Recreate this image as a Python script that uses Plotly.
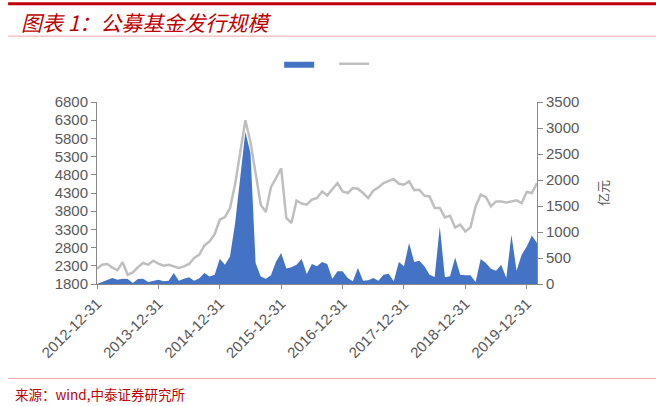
import pandas as pd
import plotly.graph_objects as go

# ── Data (monthly, 2012-12 to 2020-02) ────────────────────────────────────────
months = [d.strftime("%Y-%m-%d") for d in pd.date_range("2012-12-31", "2020-02-29", freq="ME")]

# grey line, left axis
line_vals = [
    2220, 2330, 2350, 2250, 2180, 2400, 2055, 2120, 2260, 2377, 2330, 2440,
    2360, 2305, 2330, 2275, 2240, 2283, 2350, 2514, 2610, 2860, 2970, 3170,
    3566, 3640, 3888, 4550, 5450, 6300, 5700, 4820, 3978, 3780, 4460, 4712,
    4975, 3613, 3476, 4088, 4010, 3978, 4116, 4162, 4344, 4234, 4390, 4574,
    4344, 4300, 4437, 4418, 4300, 4162, 4363, 4454, 4574, 4638, 4684, 4555,
    4528, 4620, 4380, 4390, 4226, 4207, 3888, 3888, 3630, 3676, 3355, 3429,
    3245, 3355, 3932, 4253, 4190, 3932, 4069, 4069, 4042, 4069, 4097, 4025,
    4327, 4300, 4574,
]

# blue area, right axis (亿元)
area_vals = [
    0, 38, 83, 115, 83, 102, 96, 19, 96, 102, 38, 64,
    83, 51, 64, 211, 64, 102, 128, 64, 110, 211, 146, 179,
    486, 371, 530, 1171, 2066, 2930, 2515, 403, 146, 102, 166, 435,
    595, 300, 320, 371, 480, 192, 384, 339, 422, 384, 102, 243,
    243, 115, 51, 307, 64, 70, 115, 64, 179, 198, 51, 422,
    339, 787, 422, 448, 339, 179, 134, 1106, 128, 147, 511, 179,
    166, 166, 38, 480, 403, 294, 256, 371, 115, 947, 256, 563,
    723, 934, 787,
]

tick_vals = [m for m in months if m.endswith("-12-31")]

# ── Figure ────────────────────────────────────────────────────────────────────
fig = go.Figure()
fig.add_trace(go.Scatter(x=months, y=area_vals, name=" ", yaxis="y2",
                         mode="lines", fill="tozeroy", fillcolor="#4472C4",
                         line=dict(width=0, color="#4472C4")))
fig.add_trace(go.Scatter(x=months, y=line_vals, name=" ", mode="lines",
                         line=dict(color="#BFBFBF", width=2.5)))

axis_font = dict(family="Liberation Sans, Arial, sans-serif", size=15, color="#595959")
fig.update_layout(
    width=656, height=406,
    margin=dict(l=97, r=119, t=102, b=122),
    paper_bgcolor="white", plot_bgcolor="white",
    showlegend=True,
    legend=dict(orientation="h", x=0.414, y=1.21, xanchor="left", yanchor="middle",
                font=dict(size=10), entrywidth=10, bgcolor="rgba(0,0,0,0)"),
    xaxis=dict(type="category", range=[0, len(months) - 1], tickvals=tick_vals,
               ticktext=tick_vals, tickangle=-45, tickfont=axis_font,
               showline=True, linecolor="#898989", linewidth=1,
               ticks="outside", ticklen=4, tickcolor="#898989", showgrid=False),
    yaxis=dict(range=[1800, 6800], tick0=1800, dtick=500, tickfont=axis_font,
               showline=True, linecolor="#898989", linewidth=1,
               ticks="outside", ticklen=5, tickcolor="#898989",
               showgrid=False, zeroline=False),
    yaxis2=dict(range=[0, 3500], dtick=500, overlaying="y", side="right",
                tickfont=axis_font, showline=True, linecolor="#898989", linewidth=1,
                ticks="outside", ticklen=5, tickcolor="#898989",
                showgrid=False, zeroline=False,
                title=dict(text="亿元", standoff=20,
                           font=dict(family="Noto Sans CJK SC", size=13, color="#595959"))),
)

# header / footer decoration
fig.add_shape(type="line", xref="paper", yref="paper", x0=-0.202, x1=1.272, y0=1.540, y1=1.540,
              line=dict(color="#C00000", width=3))
fig.add_shape(type="line", xref="paper", yref="paper", x0=-0.202, x1=1.272, y0=1.362, y1=1.362,
              line=dict(color="#F4A6A6", width=1))
fig.add_shape(type="line", xref="paper", yref="paper", x0=-0.202, x1=1.272, y0=-0.519, y1=-0.519,
              line=dict(color="#F4A6A6", width=1))
fig.add_annotation(text="<i>图表 1：公募基金发行规模</i>", xref="paper", yref="paper",
                   x=-0.178, y=1.44, xanchor="left", yanchor="middle", showarrow=False,
                   font=dict(family="Noto Sans CJK SC", size=21, color="#C00000"))
fig.add_annotation(text="来源：wind,中泰证券研究所", xref="paper", yref="paper",
                   x=-0.19, y=-0.605, xanchor="left", yanchor="middle", showarrow=False,
                   font=dict(family="Noto Sans CJK SC", size=13.5, color="#C00000"))

# drop the default page margin so the 656x406 figure fills the window exactly
fig.write_html("out.html", config={"displayModeBar": False},
               post_script="document.body.style.margin='0';")
